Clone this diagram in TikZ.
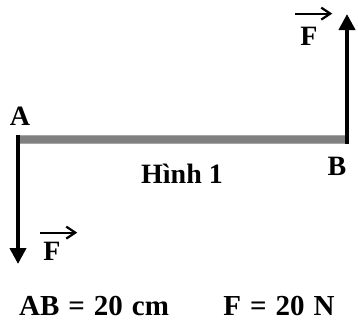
\documentclass[tikz,border=0pt]{standalone}
\usepackage{fontspec}
\setmainfont{Liberation Serif}
\usetikzlibrary{arrows.meta}
\newcommand\mywidesp{\spaceskip=9pt plus 0pt minus 0pt\relax}
\begin{document}
\begin{tikzpicture}[x=1pt,y=-1pt,
  lbl/.style={font=\fontsize{28}{32}\selectfont\bfseries, inner sep=0pt},
  wide/.style={font=\fontsize{29}{32}\selectfont\bfseries, inner sep=0pt},
  force/.style={line width=4.5pt, -{Triangle[length=16pt,width=16pt]}},
  vecarr/.style={line width=2.2pt, -{Straight Barb[length=9pt,width=12pt]}}]
\useasboundingbox (0,0) rectangle (358,322);
\coordinate (A) at (18,139.5);
\coordinate (B) at (347,139.5);
\draw[line width=9pt, gray!70, line cap=butt] (16,139.5) -- (349,139.5);
\draw[line width=7pt, gray, line cap=butt] (16,139.5) -- (349,139.5);
\coordinate (Aend) at (18,264);
\coordinate (Bend) at (347,14);
\draw[force] ([yshift=4.5pt]A) -- (Aend);
\draw[force] ([yshift=-4.5pt]B) -- (Bend);
\node[lbl] (tA) at (20,116) {A};
\node[lbl] (tB) at (337,166) {B};
\node[lbl] (cap) at (182,174) {Hình 1};
\node[lbl] (Fl) at (52,251) {F};
\node[lbl] (Fr) at (309,36) {F};
\draw[vecarr] ([xshift=-3pt,yshift=9pt]Fl.north west) -- ++(37,0);
\draw[vecarr] ([xshift=-5pt,yshift=13pt]Fr.north west) -- ++(37,0);
\node[wide] (ab) at (94,306) {\mywidesp AB = 20 cm};
\node[wide] (fn) at (279,306) {\mywidesp F = 20 N};
\end{tikzpicture}
\end{document}
